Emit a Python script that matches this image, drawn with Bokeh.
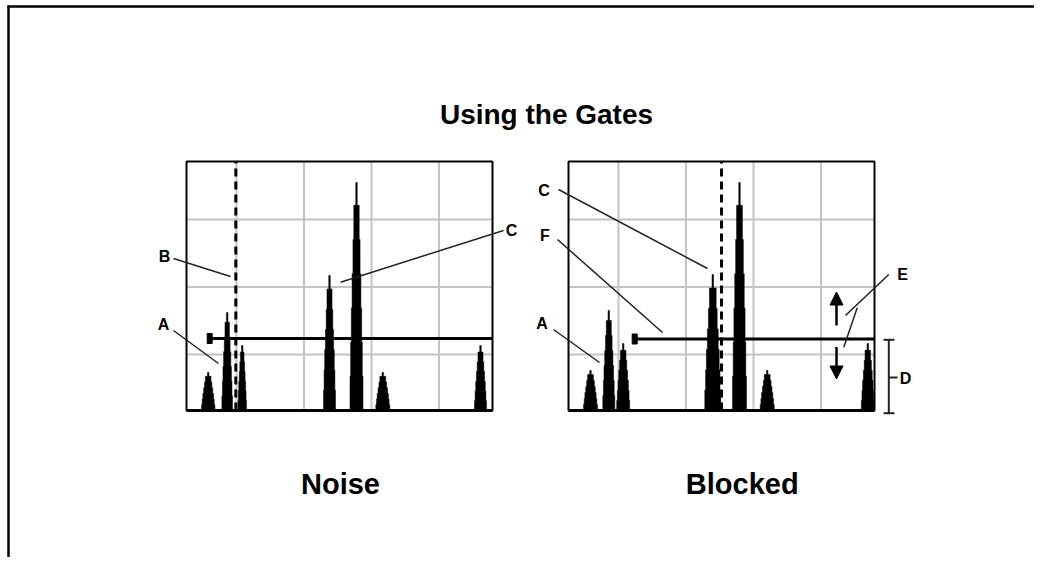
from bokeh.plotting import figure
from bokeh.models import Range1d, Arrow, NormalHead
from bokeh.core.properties import value
from bokeh.embed import file_html
from bokeh.resources import INLINE

# ---------------- data ----------------
TITLE = "Using the Gates"
PANEL_NAMES = ["Noise", "Blocked"]

# peaks of each screen: position (screen units), height (screen units), half-width at base
noise_peak_pos = [21.7, 40.7, 55.7, 143.0, 170.0, 196.3, 294.0]
noise_peak_height = [38, 98, 65, 135, 228, 38, 65]
noise_peak_halfwidth = [6.7, 5.3, 4.3, 6.0, 6.5, 7.0, 6.0]

blocked_peak_pos = [22.0, 40.3, 54.7, 144.3, 171.0, 198.7, 299.3]
blocked_peak_height = [40, 100, 67, 136, 228, 40, 67]
blocked_peak_halfwidth = [7.0, 6.0, 6.5, 8.0, 7.0, 7.0, 6.5]

gate_level = [72.0, 71.5]          # gate height on each screen
gate_start = [23.2, 66.2]          # gate start position
gate_end = [306.0, 306.0]
dashed_pos = [49.3, 153.0]         # dashed marker position

# callout letters for each screen
noise_labels = ["B", "A", "C"]
blocked_labels = ["C", "F", "A", "E", "D"]

# ---------------- layout ----------------
W, H = 1034, 557
PANEL_LEFT = [186, 568]
PANEL_BOTTOM = 410
PANEL_W, PANEL_H = 306, 249
GRID_X = [50, 117.5, 185, 252.5]
GRID_Y = [56, 123.5, 191]

FONT = value("Liberation Sans")

p = figure(width=W, height=H,
           x_range=Range1d(0, W), y_range=Range1d(H, 0),
           output_backend="svg", toolbar_location=None, min_border=0,
           x_axis_location=None, y_axis_location=None,
           outline_line_color=None)
p.grid.visible = False
p.background_fill_color = "white"
p.border_fill_color = "white"

p.extra_y_ranges = {"py": Range1d(PANEL_BOTTOM - H, PANEL_BOTTOM)}
p.extra_x_ranges = {f"px{i}": Range1d(-L, W - L) for i, L in enumerate(PANEL_LEFT)}

# frame (top and left edges visible)
p.segment(x0=[7, 8], y0=[6, 5], x1=[W, 8], y1=[6, H],
          line_color="black", line_width=2.5)

# title and panel names
p.text(x=[546], y=[114], text=[TITLE], text_font=FONT, text_font_style="bold",
       text_font_size="28px", text_align="center", text_baseline="alphabetic",
       text_color="black")
p.text(x=[340, 741.7], y=[483, 483], text=PANEL_NAMES, text_font=FONT,
       text_font_style="bold", text_font_size="29px", text_align="center",
       text_baseline="alphabetic", text_color="black")


def peak_outline(c, h, hw):
    levels = [0.0, 0.15, 0.3, 0.45, 0.6, 0.75, 0.9]
    fr = [1.0, 0.9, 0.8, 0.68, 0.55, 0.42, 0.28]
    xs, ys = [], []
    for k in range(len(levels)):
        top = levels[k + 1] if k + 1 < len(levels) else levels[-1]
        xs += [c - fr[k] * hw, c - fr[k] * hw]
        ys += [levels[k] * h, top * h]
    spike = 0.75
    xs += [c - spike, c - spike, c + spike, c + spike]
    ys += [0.9 * h, h, h, 0.9 * h]
    for k in reversed(range(len(levels))):
        top = levels[k + 1] if k + 1 < len(levels) else levels[-1]
        xs += [c + fr[k] * hw, c + fr[k] * hw]
        ys += [top * h, levels[k] * h]
    return xs, ys


peaks = [(noise_peak_pos, noise_peak_height, noise_peak_halfwidth),
         (blocked_peak_pos, blocked_peak_height, blocked_peak_halfwidth)]

for i in range(2):
    xr = f"px{i}"
    kw = dict(x_range_name=xr, y_range_name="py")
    # grid
    p.segment(x0=GRID_X, y0=[0] * len(GRID_X), x1=GRID_X, y1=[PANEL_H] * len(GRID_X),
              line_color="#c4c4c4", line_width=2, **kw)
    p.segment(x0=[0] * len(GRID_Y), y0=GRID_Y, x1=[PANEL_W] * len(GRID_Y), y1=GRID_Y,
              line_color="#c4c4c4", line_width=2, **kw)
    # peaks
    pos, hgt, hwd = peaks[i]
    xs_all, ys_all = [], []
    for c, h, hw in zip(pos, hgt, hwd):
        xs, ys = peak_outline(c, h, hw)
        xs_all.append(xs)
        ys_all.append(ys)
    p.patches(xs=xs_all, ys=ys_all, fill_color="black", line_color="black",
              line_width=0.5, **kw)
    # dashed marker
    p.segment(x0=[dashed_pos[i]], y0=[0], x1=[dashed_pos[i]], y1=[PANEL_H],
              line_color="black", line_width=3, line_dash="8 5", **kw)
    # gate
    p.segment(x0=[gate_start[i]], y0=[gate_level[i]], x1=[gate_end[i]], y1=[gate_level[i]],
              line_color="black", line_width=3, **kw)
    p.rect(x=[gate_start[i]], y=[gate_level[i]], width=5, height=10,
           fill_color="black", line_color="black", **kw)
    # box
    p.quad(left=[0], right=[PANEL_W], bottom=[0], top=[PANEL_H], fill_color=None,
           line_color="black", line_width=2, **kw)
    p.segment(x0=[0], y0=[0], x1=[PANEL_W], y1=[0], line_color="black", line_width=3, **kw)

LEAD = dict(line_color="#222222", line_width=1.5, y_range_name="py")
TXT = dict(text_font=FONT, text_font_style="bold", text_font_size="16px",
           text_align="center", text_baseline="middle", text_color="black",
           y_range_name="py")

# screen 1 callouts
p.segment(x0=[-13, -13, 317], y0=[152, 80, 180], x1=[44, 32, 154], y1=[134, 47, 128.3],
          x_range_name="px0", **LEAD)
p.text(x=[-22, -23, 325], y=[154, 86.5, 180], text=noise_labels, x_range_name="px0", **TXT)

# screen 2 callouts
p.segment(x0=[-10, -11, -15, 320.3, 288.7],
          y0=[221, 171, 81, 136, 102.7],
          x1=[139, 94, 31, 277, 275.3],
          y1=[142, 78, 48, 95, 63.3],
          x_range_name="px1", **LEAD)
p.text(x=[-24.5, -23.5, -26.5, 334, 337], y=[220.5, 175.5, 87, 136, 32.5],
       text=blocked_labels, x_range_name="px1", **TXT)

# D bracket
p.segment(x0=[320.3, 315, 315, 320.3], y0=[70.7, 70.7, -2.7, 33],
          x1=[320.3, 326, 326, 329], y1=[-2.7, 70.7, -2.7, 33],
          x_range_name="px1", line_color="#222222", line_width=2, y_range_name="py")

# E arrows
for ys, ye in [(85, 118.5), (63.5, 31.5)]:
    p.add_layout(Arrow(end=NormalHead(size=13, fill_color="black", line_color="black"),
                       x_start=268, y_start=ys, x_end=268, y_end=ye,
                       line_color="black", line_width=2.5,
                       x_range_name="px1", y_range_name="py"))

open("out.html", "w").write(file_html(p, INLINE))
